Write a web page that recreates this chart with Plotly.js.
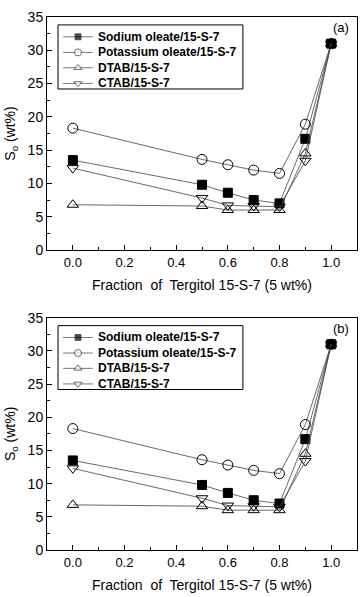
<!DOCTYPE html>
<html>
<head>
<meta charset="utf-8">
<script src="https://cdn.plot.ly/plotly-3.0.1.min.js"></script>
<style>html,body{margin:0;padding:0;background:#fff;}#chart{width:364px;height:597px;}</style>
</head>
<body>
<div id="chart"></div>
<script>
const fraction = [0.0, 0.5, 0.6, 0.7, 0.8, 0.9, 1.0];
const sodiumOleate = [13.5, 9.8, 8.6, 7.5, 7.0, 16.7, 31.0];
const potassiumOleate = [18.3, 13.6, 12.8, 12.0, 11.5, 18.9, 31.0];
const dtab = [6.8, 6.6, 6.0, 6.0, 6.0, 14.5, 31.0];
const ctab = [12.3, 7.8, 6.7, 6.6, 6.5, 13.4, 31.0];
const seriesNames = ["Sodium oleate/15-S-7", "Potassium oleate/15-S-7", "DTAB/15-S-7", "CTAB/15-S-7"];
const panelLabels = ["(a)", "(b)"];
const xTitle = "Fraction  of  Tergitol 15-S-7 (5 wt%)";
const yTitle = "S<sub>o</sub> (wt%)";

const seriesData = [sodiumOleate, potassiumOleate, dtab, ctab];
const symbols = ["square", "circle-open", "triangle-up-open", "triangle-down-open"];
const legendSymbols = ["square", "circle", "triangle-up", "triangle-down"];
const legendFill = ["#000", "#fff", "#fff", "#fff"];
const sizes = [9, 10, 10, 10];
const legendSizes = [6, 7, 7, 7];

// legend geometry (fractions of each panel's plotting area)
const legBox = {x0: 0.0355, x1: 0.632, y0: 0.691, y1: 0.966};
const legRows = [0.915, 0.848, 0.782, 0.715];
const legLine = [0.052, 0.148];
const legTextX = 0.158;

const font = {family: "Liberation Sans, Arial, sans-serif", color: "#000"};
const traces = [];
const shapes = [];
const annotations = [];
const panels = [
  {x: "x", y: "y", lx: "x3", ly: "y3"},
  {x: "x2", y: "y2", lx: "x4", ly: "y4"}
];
panels.forEach(function (p, pi) {
  seriesData.forEach(function (vals, i) {
    traces.push({
      x: fraction, y: vals, xaxis: p.x, yaxis: p.y,
      name: seriesNames[i], type: "scatter", mode: "lines+markers", showlegend: false,
      line: {color: "#444", width: 0.8},
      marker: {symbol: symbols[i], size: sizes[i], color: "#000", line: {color: "#000", width: 1}}
    });
  });
  // legend box
  shapes.push({type: "rect", xref: p.x + " domain", yref: p.y + " domain",
    x0: legBox.x0, x1: legBox.x1, y0: legBox.y0, y1: legBox.y1,
    line: {color: "#000", width: 1}, fillcolor: "#fff", layer: "below"});
  seriesNames.forEach(function (name, i) {
    traces.push({
      x: [legLine[0], (legLine[0] + legLine[1]) / 2, legLine[1]],
      y: [legRows[i], legRows[i], legRows[i]],
      xaxis: p.lx, yaxis: p.ly, type: "scatter", mode: "lines+markers", showlegend: false,
      line: {color: "#555", width: 0.8},
      marker: {symbol: legendSymbols[i], size: [0, legendSizes[i], 0], color: legendFill[i], line: {color: "#000", width: 0.8}}
    });
    annotations.push({text: name, xref: p.x + " domain", yref: p.y + " domain",
      x: legTextX, y: legRows[i], xanchor: "left", yanchor: "middle", showarrow: false,
      font: Object.assign({size: 12, weight: "bold"}, font)});
  });
  annotations.push({text: panelLabels[pi], xref: p.x + " domain", yref: p.y + " domain",
    x: 0.98, y: 0.995, xanchor: "right", yanchor: "top", showarrow: false,
    font: Object.assign({size: 13}, font)});
});

function xax(anchor) {
  return {
    anchor: anchor, range: [-0.1, 1.1], tickvals: [0, 0.2, 0.4, 0.6, 0.8, 1.0],
    ticktext: ["0.0", "0.2", "0.4", "0.6", "0.8", "1.0"],
    ticks: "inside", ticklen: 5, tickwidth: 1, tickcolor: "#000",
    minor: {dtick: 0.1, ticks: "inside", ticklen: 3, tickcolor: "#000"},
    showline: true, linecolor: "#000", linewidth: 1, mirror: true,
    showgrid: false, zeroline: false,
    tickfont: Object.assign({size: 13}, font),
    title: {text: xTitle, font: Object.assign({size: 14}, font), standoff: 11}
  };
}
function yax(anchor, domain) {
  return {
    anchor: anchor, domain: domain, range: [0, 35], dtick: 5,
    ticks: "inside", ticklen: 5, tickwidth: 1, tickcolor: "#000",
    minor: {dtick: 2.5, ticks: "inside", ticklen: 3, tickcolor: "#000"},
    showline: true, linecolor: "#000", linewidth: 1, mirror: true,
    showgrid: false, zeroline: false,
    tickfont: Object.assign({size: 14}, font),
    title: {text: yTitle, font: Object.assign({size: 14}, font), standoff: 8}
  };
}
function aux(over, anchor) {
  return {overlaying: over, anchor: anchor, range: [0, 1], visible: false, fixedrange: true};
}
const domA = [0.5629, 1.0], domB = [0, 0.4358];
const layout = {
  width: 364, height: 597,
  margin: {l: 47, r: 7, t: 17, b: 47},
  paper_bgcolor: "#fff", plot_bgcolor: "#fff",
  showlegend: false,
  xaxis: xax("y"), yaxis: yax("x", domA),
  xaxis2: xax("y2"), yaxis2: yax("x2", domB),
  xaxis3: aux("x", "y3"), yaxis3: Object.assign(aux("y", "x3"), {domain: domA}),
  xaxis4: aux("x2", "y4"), yaxis4: Object.assign(aux("y2", "x4"), {domain: domB}),
  shapes: shapes,
  annotations: annotations
};
Plotly.newPlot("chart", traces, layout, {displayModeBar: false, staticPlot: true});
</script>
</body>
</html>
